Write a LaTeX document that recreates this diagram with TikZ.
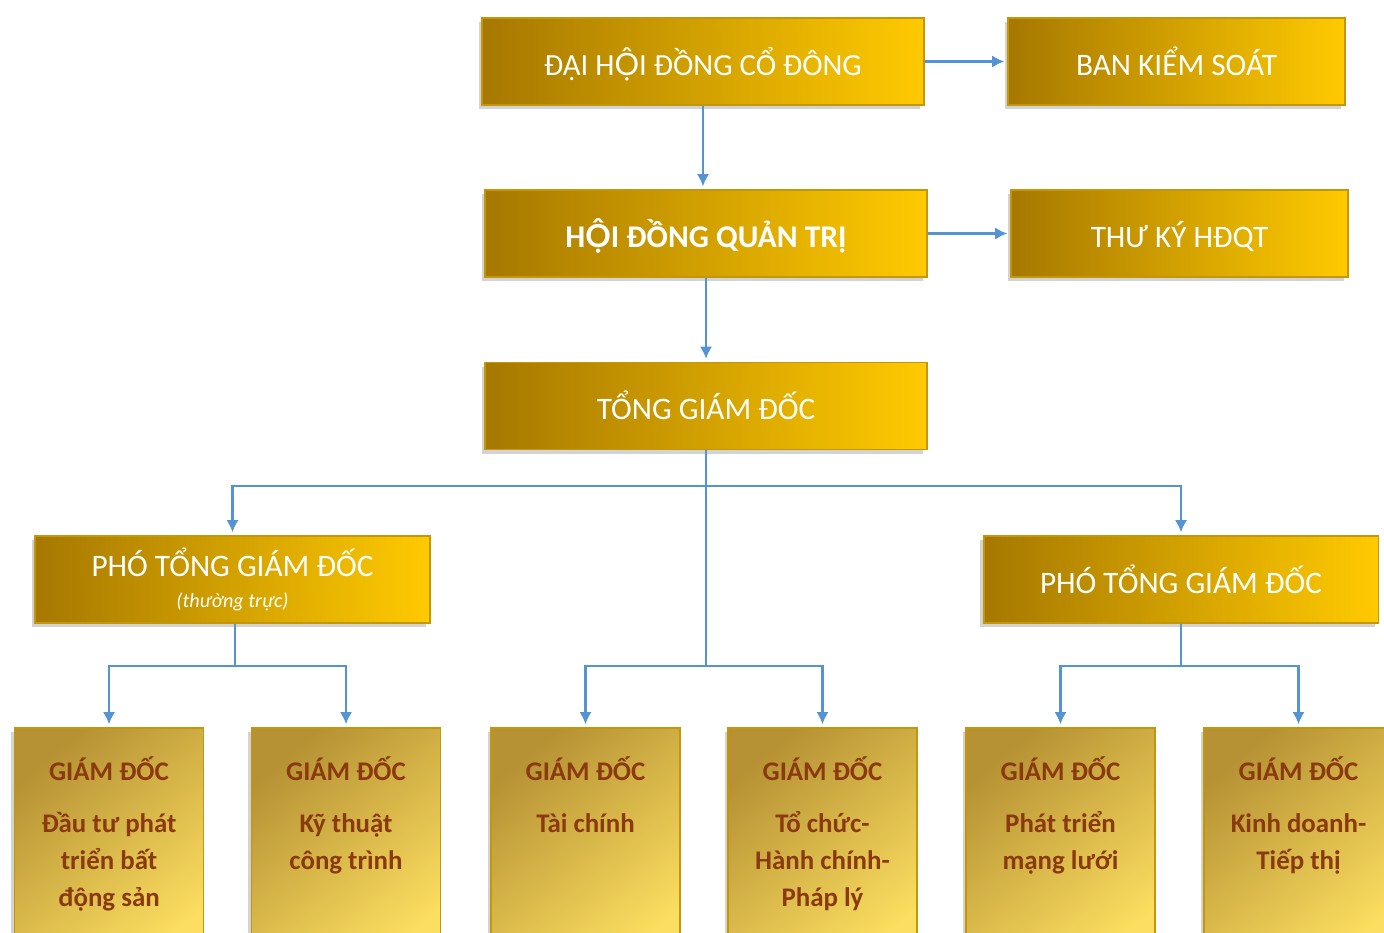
\documentclass[tikz,border=0pt]{standalone}
\usepackage{fontspec}
\setmainfont{Carlito}
\newfontfamily\latofont{Lato}
\newcommand{\Ohoi}{{\latofont Ộ}}
\usetikzlibrary{arrows.meta,shadows}
\definecolor{vangdam}{RGB}{166,120,0}
\definecolor{vangsang}{RGB}{255,202,0}
\definecolor{vienvang}{RGB}{196,150,10}
\definecolor{vangnhat1}{RGB}{182,146,52}
\definecolor{vangnhat2}{RGB}{252,222,96}
\definecolor{xanhnoi}{RGB}{84,148,212}
\definecolor{nauchu}{RGB}{138,58,14}

\begin{document}
\begin{tikzpicture}[x=0.02cm, y=-0.02cm,
  hop/.style={draw=vienvang, line width=1.1pt, left color=vangdam, right color=vangsang,
    text=white, font=\fontsize{17.8}{21}\selectfont, minimum height=1.74cm,
    drop shadow={shadow xshift=-2pt, shadow yshift=-2.5pt, opacity=0.35}},
  motdong/.style={text height=18pt, text depth=2.6pt},
  hoplon/.style={hop, motdong, minimum width=8.84cm},
  hopnho/.style={hop, motdong, minimum width=6.74cm},
  hoppho/.style={hop, minimum width=7.9cm},
  hopgd/.style={draw=vienvang, line width=1.1pt, top color=vangnhat1, bottom color=vangnhat2,
    shading angle=40, minimum width=3.78cm, minimum height=4.8cm, anchor=north,
    drop shadow={shadow xshift=-2pt, shadow yshift=-2.5pt, opacity=0.35}},
  chugd/.style={text=nauchu, font=\bfseries\fontsize{15.3}{21}\selectfont, align=center, anchor=north},
  noi/.style={draw=xanhnoi, line width=1.4pt},
  muiten/.style={noi, -{Latex[length=7pt,width=7pt]}, shorten >=1.5pt}]

  \useasboundingbox (0,0) rectangle (1384,933);
  \clip (0,0) rectangle (1384,933);

  % Cap tren
  \node[hoplon, font=\fontsize{17.5}{21}\selectfont] (dhdcd) at (703,61.5) {ĐẠI H\Ohoi I ĐỒNG CỔ ĐÔNG};
  \node[hopnho] (bks) at (1176.5,61.5) {BAN KIỂM SOÁT};
  \node[hoplon, font=\bfseries\fontsize{18}{21}\selectfont] (hdqt) at (706,233.5) {H\Ohoi I ĐỒNG QUẢN TRỊ};
  \node[hopnho] (thuky) at (1179.5,233.5) {THƯ KÝ HĐQT};
  \node[hoplon] (tgd) at (706,406) {TỔNG GIÁM ĐỐC};

  % Pho tong giam doc
  \node[hoppho, align=center] (ptgdA) at (232.5,579.5)
    {PHÓ TỔNG GIÁM ĐỐC\\[-3pt]{\itshape\fontsize{11.5}{14}\selectfont (thường trực)}};
  \node[hoppho, motdong] (ptgdB) at (1181,579.5) {PHÓ TỔNG GIÁM ĐỐC};

  % Giam doc
  \node[hopgd] (gdA) at (109,727) {};
  \node[hopgd] (gdB) at (346,727) {};
  \node[hopgd] (gdC) at (585.5,727) {};
  \node[hopgd] (gdD) at (822.5,727) {};
  \node[hopgd] (gdE) at (1060.5,727) {};
  \node[hopgd] (gdF) at (1298.5,727) {};

  \node[chugd] (tA) at (109,750) {GIÁM ĐỐC\\[9pt]Đầu tư phát\\triển bất\\động sản};
  \node[chugd] (tB) at (346,750) {GIÁM ĐỐC\\[9pt]Kỹ thuật\\công trình};
  \node[chugd] (tC) at (585.5,750) {GIÁM ĐỐC\\[9pt]Tài chính};
  \node[chugd] (tD) at (822.5,750) {GIÁM ĐỐC\\[9pt]Tổ chức-\\Hành chính-\\Pháp lý};
  \node[chugd] (tE) at (1060.5,750) {GIÁM ĐỐC\\[9pt]Phát triển\\mạng lưới};
  \node[chugd] (tF) at (1298.5,750) {GIÁM ĐỐC\\[9pt]Kinh doanh-\\Tiếp thị};

  % Duong noi
  \draw[muiten] (dhdcd) -- (bks);
  \draw[muiten] (hdqt) -- (thuky);
  \draw[muiten] (dhdcd.south) -- (dhdcd.south |- hdqt.north);
  \draw[muiten] (hdqt) -- (tgd);

  \coordinate (truc1) at (706,486);
  \coordinate (truc2) at (706,666);
  \coordinate (trucA) at (235,666);
  \coordinate (trucB) at (1181,666);

  \draw[noi] (tgd.south) -- (truc2);
  \draw[muiten] (truc1) -| (ptgdA.north);
  \draw[muiten] (truc1) -| (ptgdB.north);
  \draw[muiten] (truc2) -| (gdC.north);
  \draw[muiten] (truc2) -| (gdD.north);

  \draw[noi] (ptgdA.south -| trucA) -- (trucA);
  \draw[muiten] (trucA) -| (gdA.north);
  \draw[muiten] (trucA) -| (gdB.north);

  \draw[noi] (ptgdB.south) -- (trucB);
  \draw[muiten] (trucB) -| (gdE.north);
  \draw[muiten] (trucB) -| (gdF.north);
\end{tikzpicture}
\end{document}
